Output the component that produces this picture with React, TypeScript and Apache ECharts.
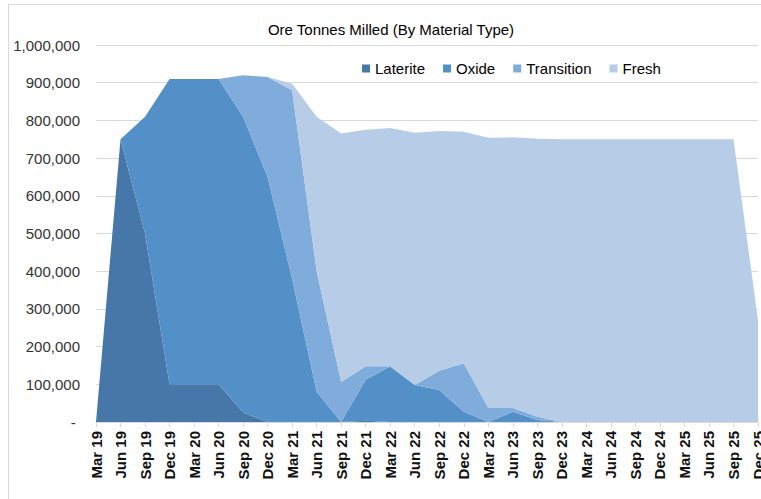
import React, { useEffect, useRef } from "react";
import * as echarts from "echarts";

const categories = [
  "Mar 19", "Jun 19", "Sep 19", "Dec 19", "Mar 20", "Jun 20", "Sep 20", "Dec 20",
  "Mar 21", "Jun 21", "Sep 21", "Dec 21", "Mar 22", "Jun 22", "Sep 22", "Dec 22",
  "Mar 23", "Jun 23", "Sep 23", "Dec 23", "Mar 24", "Jun 24", "Sep 24", "Dec 24",
  "Mar 25", "Jun 25", "Sep 25", "Dec 25",
];

const laterite = [
  0, 750000, 500000, 100000, 100000, 100000, 25000, 0,
  0, 0, 0, 3000, 0, 0, 0, 0,
  0, 0, 0, 0, 0, 0, 0, 0,
  0, 0, 0, 0,
];

const oxide = [
  0, 0, 310000, 810000, 810000, 810000, 785000, 650000,
  380000, 80000, 0, 110000, 147000, 98000, 85000, 27000,
  0, 27000, 5000, 0, 0, 0, 0, 0,
  0, 0, 0, 0,
];

const transition = [
  0, 0, 0, 0, 0, 0, 110000, 265000,
  500000, 320000, 106000, 35000, 1000, 0, 51000, 129000,
  37000, 10000, 9000, 0, 0, 0, 0, 0,
  0, 0, 0, 0,
];

const fresh = [
  0, 0, 0, 0, 0, 0, 0, 0,
  17000, 410000, 659000, 627000, 632000, 669000, 636000, 614000,
  717000, 718000, 737000, 750000, 750000, 750000, 750000, 750000,
  750000, 750000, 750000, 270000,
];

const seriesNames = ["Laterite", "Oxide", "Transition", "Fresh"];
const seriesData = [laterite, oxide, transition, fresh];
const colors = ["#4677a8", "#5490c8", "#80acdc", "#b7cce7"];

export default function App() {
  const ref = useRef<HTMLDivElement>(null);

  useEffect(() => {
    if (!ref.current) return;
    const chart = echarts.init(ref.current, null, { renderer: "svg" });
    const font = "Arial, 'Liberation Sans', sans-serif";
    chart.setOption({
      animation: false,
      textStyle: { fontFamily: font },
      title: {
        text: "Ore Tonnes Milled (By Material Type)",
        left: 386,
        textAlign: "center",
        top: 17,
        textStyle: { fontSize: 15, fontWeight: "normal", color: "#000", fontFamily: font },
      },
      legend: {
        left: 357,
        top: 56,
        itemWidth: 8,
        itemHeight: 8,
        itemGap: 18,
        icon: "rect",
        textStyle: { fontSize: 15, color: "#000", fontFamily: font },
        data: seriesNames,
      },
      graphic: [
        {
          type: "rect",
          shape: { x: 8.5, y: 4.5, width: 900, height: 700 },
          style: { fill: "none", stroke: "#d9d9d9", lineWidth: 1 },
          silent: true,
          z: -1,
        },
      ],
      grid: {
        left: 96,
        right: 3,
        top: 45,
        bottom: 77,
        containLabel: false,
        outerBoundsMode: "none",
      },
      xAxis: {
        type: "category",
        data: categories,
        boundaryGap: false,
        axisLine: { lineStyle: { color: "#d9d9d9" } },
        axisTick: { show: true, alignWithLabel: true, length: 5, lineStyle: { color: "#d9d9d9" } },
        axisLabel: {
          rotate: 90,
          interval: 0,
          fontSize: 15,
          fontWeight: "bold",
          color: "#111",
          margin: 9,
          fontFamily: font,
          hideOverlap: false,
        },
      },
      yAxis: {
        type: "value",
        min: 0,
        max: 1000000,
        interval: 100000,
        axisLine: { show: false },
        axisTick: { show: false },
        splitLine: { lineStyle: { color: "#d9d9d9" } },
        axisLabel: {
          fontSize: 15,
          color: "#333",
          margin: 16,
          fontFamily: font,
          formatter: (v: number) => (v === 0 ? "- " : v.toLocaleString("en-US")),
        },
      },
      series: seriesNames.map((name, i) => ({
        name,
        type: "line",
        stack: "total",
        data: seriesData[i],
        symbol: "none",
        lineStyle: { width: 0 },
        areaStyle: { color: colors[i], opacity: 1 },
        itemStyle: { color: colors[i] },
        z: 2,
      })),
    });
    return () => chart.dispose();
  }, []);

  return <div ref={ref} style={{ width: 761, height: 499, position: "absolute", left: 0, top: 0 }} />;
}
